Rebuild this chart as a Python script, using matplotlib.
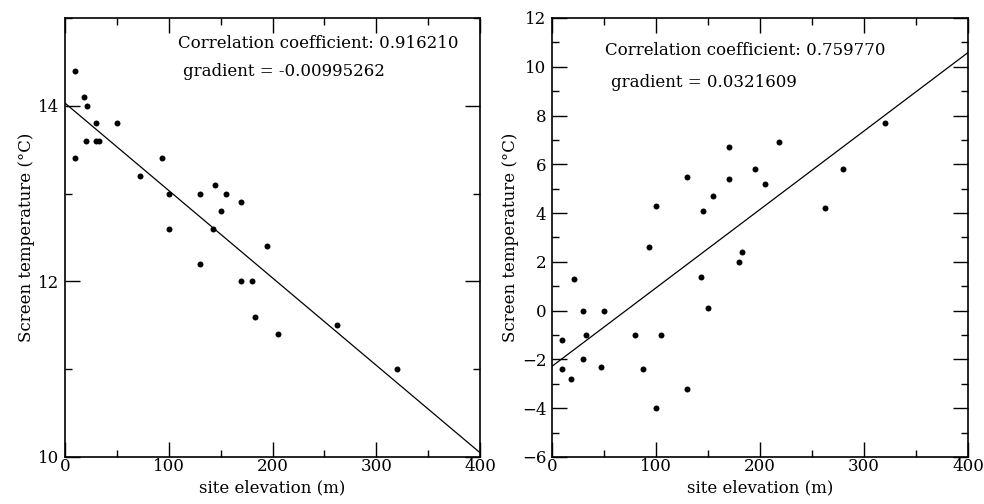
import numpy as np
import matplotlib
matplotlib.use('Agg')
from matplotlib import pyplot as plt
from matplotlib.ticker import MultipleLocator

plt.rcParams['font.family'] = ['DejaVu Serif']

#% Data

elev_left = [10, 10, 18, 21, 20, 30, 30, 33, 50, 93, 72, 100, 100, 130, 145,
             155, 150, 170, 143, 195, 130, 170, 180, 183, 205, 262, 320]
temp_left = [14.4, 13.4, 14.1, 14.0, 13.6, 13.8, 13.6, 13.6, 13.8, 13.4, 13.2,
             13.0, 12.6, 13.0, 13.1, 13.0, 12.8, 12.9, 12.6, 12.4, 12.2, 12.0,
             12.0, 11.6, 11.4, 11.5, 11.0]
grad_left = -0.00995262
icpt_left = 14.03
corr_left = 0.916210

elev_right = [100, 93, 130, 145, 155, 170, 170, 195, 205, 218, 262, 280, 320,
              183, 180, 21, 143, 30, 50, 150, 10, 33, 80, 105, 10, 30, 18, 47,
              87, 130, 100]
temp_right = [4.3, 2.6, 5.5, 4.1, 4.7, 6.7, 5.4, 5.8, 5.2, 6.9, 4.2, 5.8, 7.7,
              2.4, 2.0, 1.3, 1.4, 0.0, 0.0, 0.1, -1.2, -1.0, -1.0, -1.0, -2.4,
              -2.0, -2.8, -2.3, -2.4, -3.2, -4.0]
grad_right = 0.0321609
icpt_right = -2.28
corr_right = 0.759770

#% Plotting

fig = plt.figure(figsize=(9.84, 5.04), dpi=100)
axL = fig.add_axes([0.0661, 0.0933, 0.4217, 0.871])
axR = fig.add_axes([0.561, 0.0933, 0.4228, 0.871])

def panel(ax, x, y, grad, icpt, corr, ylim, tx, gtext):
    ax.plot(x, y, 'o', color='k', ms=4.3, mec='none')
    xs = np.array([0, 400])
    ax.plot(xs, icpt + grad * xs, color='k', lw=0.9)
    ax.set_xlim(0, 400)
    ax.set_ylim(*ylim)
    ax.xaxis.set_major_locator(MultipleLocator(100))
    ax.xaxis.set_minor_locator(MultipleLocator(50))
    ax.yaxis.set_major_locator(MultipleLocator(2))
    ax.yaxis.set_minor_locator(MultipleLocator(1))
    ax.tick_params(which='both', direction='in', top=True, right=True,
                   labelsize=12, width=1.0, pad=4)
    ax.tick_params(axis='x', pad=1)
    ax.tick_params(which='major', length=10.5)
    ax.tick_params(which='minor', length=5)
    for s in ax.spines.values():
        s.set_linewidth(1.2)
    ax.set_xlabel('site elevation (m)', fontsize=12, labelpad=3)
    ax.set_ylabel('Screen temperature (\u00b0C)', fontsize=12, labelpad=2)
    ax.text(tx[0], tx[1], 'Correlation coefficient: %.6f' % corr,
            transform=ax.transAxes, fontsize=12, va='center')
    ax.text(tx[2], tx[3], gtext, transform=ax.transAxes, fontsize=12,
            va='center')

panel(axL, elev_left, temp_left, grad_left, icpt_left, corr_left, (10, 15),
      (0.272, 0.943, 0.284, 0.877), 'gradient = %.8f' % grad_left)
axL.set_yticks([10, 12, 14])
axL.set_yticks([11, 13, 15], minor=True)
panel(axR, elev_right, temp_right, grad_right, icpt_right, corr_right, (-6, 12),
      (0.127, 0.927, 0.142, 0.854), 'gradient = %.7f' % grad_right)

fig.savefig('out.png', dpi=100)
